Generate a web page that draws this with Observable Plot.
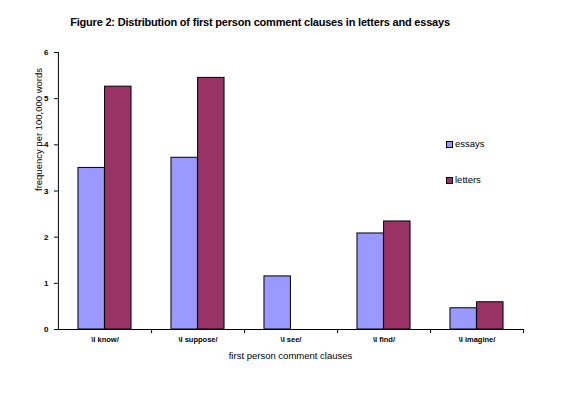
<!DOCTYPE html>
<html>
<head>
<meta charset="utf-8">
<script src="https://cdn.jsdelivr.net/npm/d3@7"></script>
<script src="https://cdn.jsdelivr.net/npm/@observablehq/plot@0.6"></script>
<style>
  html, body { margin: 0; padding: 0; background: #fff; }
  #wrap { position: relative; width: 577px; height: 393px; overflow: hidden; font-family: "Liberation Sans", Arial, sans-serif; }
  #title { height: 40px; width: 520px; text-align: center; font-weight: bold; font-size: 11px; line-height: 12px; padding-top: 16px; box-sizing: border-box; letter-spacing: -0.2px; }
  .legend { position: absolute; left: 446px; font-size: 9.5px; line-height: 10px; display: flex; align-items: center; }
  .legend span.sw { display: inline-block; width: 5px; height: 5px; border: 1px solid #000; margin-right: 2px; }
  svg { display: block; }
</style>
</head>
<body>
<div id="wrap">
  <div id="title">Figure 2: Distribution of first person comment clauses in letters and essays</div>
  <div id="chart"></div>
  <div class="legend" style="top:139px"><span class="sw" style="background:#9999FF"></span>essays</div>
  <div class="legend" style="top:175px"><span class="sw" style="background:#993366"></span>letters</div>
</div>
<script>
const categories = ["\\I know/", "\\I suppose/", "\\I see/", "\\I find/", "\\I imagine/"];
const essays = [3.50, 3.72, 1.15, 2.08, 0.46];
const letters = [5.26, 5.45, 0, 2.34, 0.59];
const yTicks = [0, 1, 2, 3, 4, 5, 6];
const seriesNames = ["essays", "letters"];
const seriesColors = ["#9999FF", "#993366"];

const essayRows = categories.map((c, i) => ({category: c, series: "essays", value: essays[i]}));
const letterRows = categories.map((c, i) => ({category: c, series: "letters", value: letters[i]})).filter(d => d.value > 0);

const W = 577, H = 353;
const mL = 57, mR = 54, mT = 12, mB = 64;
const step = (W - mL - mR) / categories.length;
const barW = step / 3.5;
const gapHalf = 0.75 * barW;

const chart = Plot.plot({
  width: W, height: H,
  marginLeft: mL, marginRight: mR, marginTop: mT, marginBottom: mB,
  style: {fontFamily: "'Liberation Sans', Arial, sans-serif", background: "#fff", color: "#000", overflow: "visible"},
  x: {domain: categories, padding: 0, axis: null},
  y: {domain: [0, 6], axis: null},
  color: {domain: seriesNames, range: seriesColors},
  marks: [
    Plot.barY(essayRows, {x: "category", y: "value", fill: "series", stroke: "#000", strokeWidth: 1,
      insetLeft: gapHalf, insetRight: step - gapHalf - barW}),
    Plot.barY(letterRows, {x: "category", y: "value", fill: "series", stroke: "#000", strokeWidth: 1,
      insetLeft: step / 2, insetRight: step / 2 - barW}),
    // axis lines
    Plot.ruleY([0], {stroke: "#000"}),
    Plot.ruleX([categories[0]], {dx: -step / 2, y1: 0, y2: 6, stroke: "#000"}),
    // x boundary ticks
    Plot.ruleX(categories, {dx: step / 2, y1: 0, y2: -0.09, stroke: "#000"}),
    // y ticks (short, outward)
    Plot.tickY(yTicks, {y: d => d, x: () => categories[0], dx: -step / 2 - 2, insetLeft: step / 2 - 2, insetRight: step / 2 - 2, stroke: "#000"}),
    Plot.text(yTicks, {y: d => d, text: d => String(d), frameAnchor: "left", dx: -9, textAnchor: "end", fontWeight: "bold", fontSize: 8}),
    Plot.text(categories, {x: d => d, text: d => d, frameAnchor: "bottom", dy: 12, fontWeight: "bold", fontSize: 7.5}),
    Plot.text(["first person comment clauses"], {frameAnchor: "bottom", dy: 29, fontSize: 9.5}),
    Plot.text(["frequency per 100,000 words"], {frameAnchor: "left", dx: -19, rotate: -90, fontSize: 9.5})
  ]
});
document.getElementById("chart").appendChild(chart);
</script>
</body>
</html>
